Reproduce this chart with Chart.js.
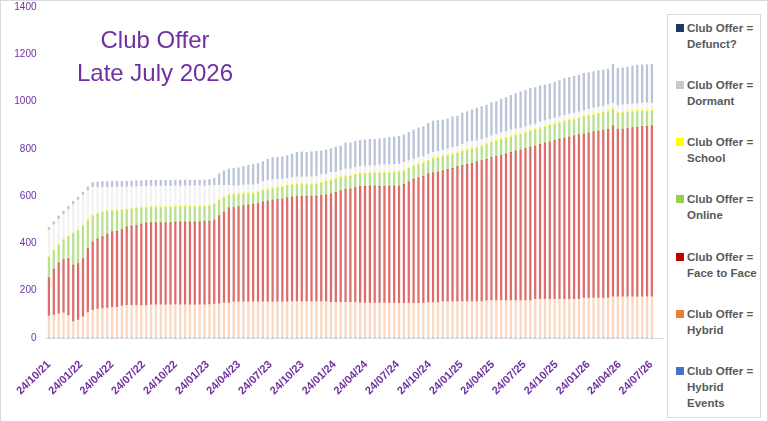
<!DOCTYPE html>
<html>
<head>
<meta charset="utf-8">
<script src="https://cdn.jsdelivr.net/npm/chart.js@4.4.0/dist/chart.umd.min.js"></script>
<style>
  body { margin: 0; background: #fff; }
  #wrap { position: relative; width: 768px; height: 421px; overflow: hidden; font-family: 'Liberation Sans', Arial, sans-serif; }
  #frame { position: absolute; left: 0; top: 0; width: 766px; height: 421px; border: 1px solid #d9d9d9; border-bottom: none; pointer-events: none; }
  #chart { position: absolute; left: 0; top: 0; }
  #title { position: absolute; left: 55px; top: 23px; width: 200px; text-align: center; font-size: 24px; line-height: 33px; color: #7030A0; }
  #legend { position: absolute; left: 667px; top: 14px; width: 92px; height: 402px; border: 1px solid #d9d9d9; background: #fff; }
  .item { position: absolute; left: 0; width: 92px; }
  .sw { position: absolute; left: 8px; width: 8px; height: 8px; }
  .txt { position: absolute; left: 19px; top: -4px; font-size: 11.5px; font-weight: bold; line-height: 16px; color: #595959; white-space: nowrap; }
</style>
</head>
<body>
<div id="wrap">
  <canvas id="chart" width="768" height="421"></canvas>
  <div id="title">Club Offer<br>Late July 2026</div>
  <div id="legend"></div>
  <div id="frame"></div>
</div>
<script>
// fortnightly snapshots, first one 24/10/21
const firstDate = '24/10/21';
const stepDays = 14;
const barCount = 125;

const tickLabels = ['24/10/21', '24/01/22', '24/04/22', '24/07/22', '24/10/22', '24/01/23', '24/04/23',
  '24/07/23', '24/10/23', '24/01/24', '24/04/24', '24/07/24', '24/10/24', '24/01/25', '24/04/25',
  '24/07/25', '24/10/25', '24/01/26', '24/04/26', '24/07/26'];

const hybridEvents = [
  3,3,3,3,3,3,3,3,3,3, 3,3,3,3,3,3,3,3,3,3, 3,3,3,3,3,3,3,3,3,3, 3,3,3,3,3,3,3,3,3,3,
  3,3,3,3,3,3,3,3,3,3, 3,3,3,3,3,3,3,3,3,3, 3,3,3,3,3,3,3,3,3,3, 3,3,3,3,3,3,3,3,3,3,
  3,3,3,3,3,3,3,3,3,3, 3,3,3,3,3,3,3,3,3,3, 3,3,3,3,3,3,3,3,3,3, 3,3,3,3,3,3,3,3,3,3,
  3,3,3,3,3];
const hybrid = [
  93,97,102,106,95,69,76,89,107,117, 122,124,126,129,130,136,138,138,138,137,
  138,140,140,140,140,140,141,140,140,140, 140,140,140,141,143,144,147,148,153,153,
  153,153,153,153,153,153,153,153,153,153, 154,154,154,154,154,154,154,154,151,151,
  151,151,151,151,148,148,148,148,148,148, 148,148,146,146,146,146,146,146,150,150,
  150,154,154,154,154,154,154,154,154,154, 158,158,158,158,158,158,158,158,158,158,
  163,163,163,163,163,163,163,163,163,163, 169,169,169,169,169,169,174,174,174,174,
  174,174,174,174,174];
const faceToFace = [
  158,190,212,223,237,236,236,243,267,286, 293,301,310,317,318,320,328,332,334,342,
  345,344,344,344,344,344,346,347,347,347, 347,347,349,349,353,370,383,400,396,399,
  403,406,408,413,419,423,427,429,432,437, 439,441,442,442,442,443,445,448,456,462,
  469,475,476,482,489,490,492,492,490,490, 492,492,494,501,512,522,528,535,541,546,
  549,550,556,561,568,572,578,582,588,592, 595,602,606,612,617,624,630,634,640,646,
  646,653,658,663,669,675,680,684,689,693, 691,695,700,702,705,711,720,706,707,710,
  712,714,717,717,720];
const online = [
  87,79,74,82,93,133,137,136,119,111, 106,103,96,88,86,81,72,71,72,68,
  64,65,65,64,64,65,64,64,64,64, 64,65,63,65,65,62,60,52,53,52,
  50,48,46,46,47,47,48,49,49,50, 50,50,49,48,49,50,52,56,55,54,
  54,52,54,53,54,53,52,52,55,55, 55,56,58,54,54,54,55,53,53,58,
  58,59,56,56,56,59,58,59,57,60, 61,61,65,65,65,64,64,64,65,66,
  67,65,66,68,68,67,68,70,67,69, 71,72,70,72,74,73,68,68,68,68,
  67,67,64,64,62];
const school = [
  4,4,4,4,4,4,4,4,4,4, 4,4,4,4,4,4,4,4,4,4, 4,4,4,4,4,4,4,4,4,4, 4,4,4,4,4,4,4,4,5,5,
  5,5,5,5,5,5,5,5,5,5, 5,5,5,5,5,5,5,5,5,5, 5,5,5,5,5,5,5,5,5,5, 5,5,5,5,5,5,5,5,5,5,
  6,6,6,6,6,6,6,6,6,6, 6,6,6,6,6,6,6,6,6,6, 6,6,6,6,6,6,6,6,6,6, 6,6,6,6,6,6,6,6,6,6,
  6,6,6,6,6];
const dormant = [
  114,108,110,108,114,122,130,131,126,119, 112,105,101,100,100,97,97,94,92,90,
  90,89,89,90,90,89,88,88,88,88, 88,87,87,85,80,67,51,41,37,35,
  36,36,36,34,37,40,36,35,33,30, 31,31,31,32,31,33,35,30,34,30,
  29,32,29,31,30,31,32,32,34,34, 33,33,33,37,33,30,30,28,29,26,
  26,26,28,29,27,28,32,31,30,28, 26,29,28,28,27,28,26,26,25,24,
  23,27,26,25,25,25,25,25,26,25, 25,25,27,27,26,27,25,29,31,29,
  31,30,32,33,31];
const defunct = [
  9,11,11,11,11,11,10,11,13,17, 20,22,22,22,22,22,22,22,22,22,
  22,22,22,22,22,22,22,22,22,22, 22,22,22,23,27,44,59,66,71,73,
  76,79,84,85,82,85,91,90,91,92, 96,101,103,101,103,102,98,99,97,103,
  101,106,108,107,107,108,108,108,107,110, 113,113,114,113,117,120,122,124,127,130,
  128,124,124,126,125,129,127,130,134,136, 136,137,134,139,141,143,147,150,151,152,
  151,150,149,147,148,150,151,152,153,153, 154,153,152,152,150,148,162,155,154,156,
  158,160,159,158,162];

// bottom of the stack first
const series = [
  { name: 'Hybrid Events', data: hybridEvents, bar: 'rgba(68,114,196,0.35)', key: '#4472C4' },
  { name: 'Hybrid',        data: hybrid,       bar: 'rgba(237,125,49,0.3)',  key: '#ED7D31' },
  { name: 'Face to Face',  data: faceToFace,   bar: 'rgba(200,10,10,0.6)',   key: '#C00000' },
  { name: 'Online',        data: online,       bar: 'rgba(146,208,80,0.65)', key: '#92D050' },
  { name: 'School',        data: school,       bar: 'rgba(255,255,0,0.85)',  key: '#FFFF00' },
  { name: 'Dormant',       data: dormant,      bar: 'rgba(191,191,191,0.2)', key: '#C9C9C9' },
  { name: 'Defunct?',      data: defunct,      bar: 'rgba(31,56,120,0.3)',   key: '#1F3864' }
];

function dayOf(label) {
  const p = label.split('/').map(Number);
  return Date.UTC(2000 + p[2], p[1] - 1, p[0]) / 86400000;
}
const day0 = dayOf(firstDate);
const tickDays = tickLabels.map(l => dayOf(l) - day0);
const barDays = [];
for (let i = 0; i < barCount; i++) barDays.push(i * stepDays);

// ─── Legend (Excel lists it top of stack first) ───
function buildLegend() {
  const box = document.getElementById('legend');
  series.slice().reverse().forEach((s, i) => {
    const item = document.createElement('div');
    item.className = 'item';
    item.style.top = (8.5 + i * 57.3) + 'px';
    const words = s.name === 'Hybrid Events' ? 'Hybrid<br>Events' : s.name;
    item.innerHTML = '<div class="sw" style="background:' + s.key + '"></div>' +
      '<div class="txt">Club Offer =<br>' + words + '</div>';
    box.appendChild(item);
  });
}

function initChart() {
  const purple = '#7030A0';
  new Chart(document.getElementById('chart'), {
    type: 'bar',
    data: {
      datasets: series.map(s => ({
        label: 'Club Offer = ' + s.name,
        data: s.data.map((v, i) => ({ x: barDays[i], y: v })),
        backgroundColor: s.bar,
        borderWidth: 0,
        barThickness: 1.6
      }))
    },
    options: {
      responsive: false,
      animation: false,
      layout: { padding: { top: 7, right: 105, left: 0, bottom: 0 } },
      plugins: { legend: { display: false }, tooltip: { enabled: false } },
      scales: {
        x: {
          type: 'linear',
          stacked: true,
          offset: false,
          min: -7,
          max: 1768,
          grid: { display: false, drawTicks: false, offset: false },
          border: { display: true, color: '#d6dce8' },
          afterBuildTicks: s => { s.ticks = tickDays.map(v => ({ value: v })); },
          afterFit: s => { s.height = 83; s.paddingLeft = 0; s.paddingRight = 0; },
          ticks: {
            autoSkip: false, minRotation: 45, maxRotation: 45, padding: 20,
            color: purple,
            font: { family: 'Liberation Sans', size: 11, weight: 'bold' },
            callback: (v, i) => tickLabels[i]
          }
        },
        y: {
          stacked: true,
          min: 0,
          max: 1400,
          grid: { display: false, drawTicks: false },
          border: { display: false },
          afterFit: s => { s.width = 46.5; s.paddingTop = 0; s.paddingBottom = 0; },
          ticks: {
            stepSize: 200, padding: 10,
            color: purple,
            font: { family: 'Liberation Sans', size: 10 },
            callback: v => v
          }
        }
      }
    }
  });
}

buildLegend();
initChart();
</script>
</body>
</html>
